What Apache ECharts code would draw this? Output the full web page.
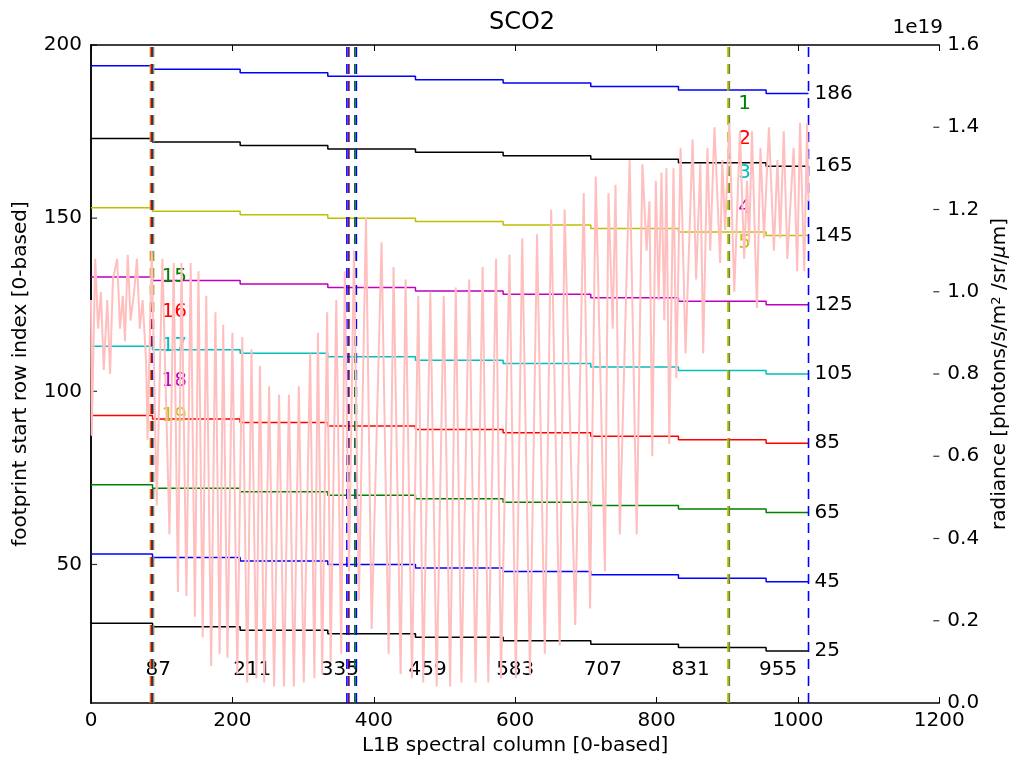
<!DOCTYPE html>
<html><head><meta charset="utf-8">
<script src="https://cdn.jsdelivr.net/npm/echarts@6/dist/echarts.min.js"></script>
<style>html,body{margin:0;padding:0;background:#fff}#c{width:1018px;height:765px}</style>
</head><body><div id="c"></div>
<script>
// ---------- data ----------
const stepCols = [0, 87, 211, 335, 459, 583, 707, 831, 955, 1015];
const fpA = [194, 193, 192, 191, 190, 189, 188, 187, 186];
const fpB = [173, 172, 171, 170, 169, 168, 167, 166, 165];
const fpC = [153, 152, 151, 150, 149, 148, 147, 146, 145];
const fpD = [133, 132, 131, 130, 129, 128, 127, 126, 125];
const fpE = [113, 112, 111, 110, 109, 108, 107, 106, 105];
const fpF = [93, 92, 91, 90, 89, 88, 87, 86, 85];
const fpG = [73, 72, 71, 70, 69, 68, 67, 66, 65];
const fpH = [53, 52, 51, 50, 49, 48, 47, 46, 45];
const fpI = [33, 32, 31, 30, 29, 28, 27, 26, 25];
const footprintRows = [fpA, fpB, fpC, fpD, fpE, fpF, fpG, fpH, fpI];
const footprintColors = ['#0000ff', '#000000', '#bfbf00', '#bf00bf', '#00bfbf', '#ff0000', '#008000', '#0000ff', '#000000'];

const stepLabelCols = [87, 211, 335, 459, 583, 707, 831, 955];
const stepLabels = ['87', '211', '335', '459', '583', '707', '831', '955'];
const stepLabelRow = 19.5;

const topLabels = ['1', '2', '3', '4', '5'];
const topLabelRows = [183, 173, 163, 153, 143];
const topLabelCol = 903;
const leftLabels = ['15', '16', '17', '18', '19'];
const leftLabelRows = [133, 123, 113, 103, 93];
const leftLabelCol = 87;
const numberColors = ['#008000', '#ff0000', '#00bfbf', '#bf00bf', '#bfbf00'];

const vLineCols = [84, 85.5, 87, 88.5, 362, 364.8, 373.2, 375.4, 901, 903, 1015];
const vLineColors = ['#bfbf00', '#ff0000', '#0000ff', '#8fa020', '#0000ff', '#600060', '#008000', '#0000ff', '#bfbf00', '#6a8a20', '#0000ff'];

const leftTickVals = [50, 100, 150, 200];
const rightTickVals = [0.2, 0.4, 0.6, 0.8, 1.0, 1.2, 1.4];
const xTickLabels = ['0', '200', '400', '600', '800', '1000', '1200'];

// radiance (units of 1e19)
const radCols = [0,1,6,10,14,18,23,27,31,37,41,45,48,52,56,61,65,69,73,78,80,86,
  93,101,111,117,123,128,135,141,147,152,158,163,170,176,182,187,193,200,207,214,221,227,234,239,245,252,259,266,273,280,287,294,301,310,316,321,327,334,339,347,354,359,365,372,379,389,397,411,421,
  428,438,445,454,463,470,480,489,499,508,516,524,535,544,554,562,573,580,592,601,610,621,631,642,651,663,670,685,697,706,714,727,732,738,742,748,762,772,780,786,790,794,799,803,807,811,814,818,824,
  828,834,841,851,856,862,866,872,876,882,890,893,897,903,910,918,924,928,931,935,942,947,952,959,966,971,975,980,985,994,999,1003,1009,1013,1015];
const radVals = [0.98,0.65,1.08,0.91,1.00,0.81,0.98,0.80,1.03,1.08,0.91,0.99,0.88,1.09,0.93,1.00,1.08,0.91,0.98,0.83,0.64,1.10,
  0.48,1.08,0.41,1.07,0.27,1.07,0.26,1.07,0.21,1.05,0.16,0.99,0.09,0.95,0.12,0.92,0.11,0.90,0.07,0.89,0.05,0.86,0.06,0.82,0.05,0.77,0.04,0.75,0.04,0.75,0.04,0.77,0.05,0.85,0.06,0.90,0.07,0.95,0.10,0.98,0.12,1.05,0.32,1.10,0.25,1.18,0.18,1.12,0.12,
  1.06,0.07,1.03,0.06,0.99,0.05,1.00,0.04,0.99,0.04,1.01,0.05,1.03,0.05,1.06,0.05,1.08,0.06,1.09,0.06,1.13,0.07,1.14,0.12,1.20,0.14,1.20,0.19,1.24,0.23,1.28,0.32,1.24,0.91,1.26,0.41,1.32,0.41,1.31,1.10,1.22,0.60,1.27,0.98,1.29,0.93,1.30,0.63,1.30,
  0.79,1.35,0.85,1.37,1.03,1.31,0.85,1.35,1.10,1.40,1.07,1.32,1.15,1.41,1.00,1.39,1.08,1.27,1.12,1.39,0.96,1.35,1.13,1.40,1.10,1.32,1.13,1.39,1.08,1.35,1.05,1.41,1.05,1.41,1.22];

// ---------- chart ----------
const FONT = '"DejaVu Sans", sans-serif';
const FS = 20;
const chart = echarts.init(document.getElementById('c'));
const series = [];

vLineCols.forEach((c, i) => series.push({
  type: 'line', xAxisIndex: 0, yAxisIndex: 0, data: [[c, 10], [c, 200]], symbol: 'none',
  lineStyle: { color: vLineColors[i], width: 1.6, type: [10, 7] }, z: 3, silent: true
}));

footprintRows.forEach((rows, i) => series.push({
  type: 'line', xAxisIndex: 0, yAxisIndex: 0, step: 'end', symbol: 'none',
  data: stepCols.map((c, j) => [c, rows[Math.min(j, rows.length - 1)]]),
  lineStyle: { color: footprintColors[i], width: 1.5 }, z: 2,
  endLabel: { show: true, formatter: String(rows[rows.length - 1]), color: '#000', fontSize: FS, fontFamily: FONT, distance: 6 }
}));

function labelSeries(cols, rows, texts, colors, dx) {
  return {
    type: 'scatter', xAxisIndex: 0, yAxisIndex: 0, symbolSize: 0.01, z: 2, silent: true,
    itemStyle: { color: '#ffffff' },
    data: texts.map((t, i) => ({
      value: [Array.isArray(cols) ? cols[i] : cols, Array.isArray(rows) ? rows[i] : rows],
      label: { color: colors[i] }
    })),
    label: { show: true, position: 'right', distance: 0, offset: [dx, 0], fontSize: FS, fontFamily: FONT,
      textBorderWidth: 0, opacity: 1, formatter: p => texts[p.dataIndex] }
  };
}
series.push(labelSeries(stepLabelCols, stepLabelRow, stepLabels, stepLabels.map(() => '#000000'), -7));
series.push(labelSeries(topLabelCol, topLabelRows, topLabels, numberColors, 9));
series.push(labelSeries(leftLabelCol, leftLabelRows, leftLabels, numberColors, 9));

// inside ticks of the left axis (only at 50,100,150,200) and of the right axis
series.push({
  type: 'scatter', xAxisIndex: 0, yAxisIndex: 0, silent: true, clip: false, z: 5,
  symbol: 'rect', symbolSize: [6, 1.2], symbolOffset: [3, 0],
  itemStyle: { color: '#000' },
  data: leftTickVals.map(v => [0, v])
});
series.push({
  type: 'scatter', xAxisIndex: 0, yAxisIndex: 1, silent: true, clip: false, z: 5,
  symbol: 'rect', symbolSize: [6, 1.2], symbolOffset: [-3, 0],
  itemStyle: { color: '#000' },
  data: rightTickVals.map(v => [1200, v * 1e19])
});

series.push({
  type: 'line', xAxisIndex: 0, yAxisIndex: 1, symbol: 'none', sampling: null,
  data: radCols.map((c, i) => [c, radVals[i] * 1e19]),
  lineStyle: { color: '#ffbfbf', width: 2 }, z: 10
});

const axLine = { show: true, lineStyle: { color: '#000', width: 1.5 } };
const axTick = { show: true, inside: true, length: 6, lineStyle: { color: '#000', width: 1 } };
const labelStyle = { color: '#000', fontSize: FS, fontFamily: FONT };

chart.setOption({
  animation: false,
  backgroundColor: '#fff',
  title: { text: 'SCO2', left: 517, top: 6, textAlign: 'center',
    textStyle: { fontSize: 24, fontWeight: 'normal', fontFamily: FONT, color: '#000' } },
  grid: { left: 91, right: 75, top: 45, bottom: 62, containLabel: false },
  xAxis: [
    { type: 'value', position: 'bottom', min: 0, max: 1200, interval: 200,
      axisLine: axLine, axisTick: axTick, splitLine: { show: false },
      axisLabel: Object.assign({ margin: 8, formatter: v => xTickLabels[Math.round(v / 200)] }, labelStyle),
      name: 'L1B spectral column [0-based]', nameLocation: 'middle', nameGap: 33,
      nameTextStyle: labelStyle },
    { type: 'value', position: 'top', min: 0, max: 1200, interval: 200,
      axisLine: axLine, axisTick: axTick, splitLine: { show: false }, axisLabel: { show: false } }
  ],
  yAxis: [
    { type: 'value', position: 'left', min: 10, max: 200, alignTicks: false,
      axisLine: axLine, splitLine: { show: false }, axisTick: { show: false },
      axisLabel: Object.assign({ margin: 9, customValues: leftTickVals }, labelStyle),
      name: 'footprint start row index [0-based]', nameLocation: 'middle', nameGap: 60,
      nameTextStyle: labelStyle },
    { type: 'value', position: 'right', min: 0, max: 1.6e19, interval: 0.2e19, alignTicks: false,
      axisLine: axLine, axisTick: { show: false }, splitLine: { show: false },
      axisLabel: Object.assign({ margin: 8, formatter: v => (v / 1e19).toFixed(1) }, labelStyle),
      name: 'radiance [photons/s/m{sup|2} /sr/{it|μ}m]', nameLocation: 'middle', nameGap: 50,
      nameTextStyle: Object.assign({ rich: {
        sup: { fontSize: 13, fontFamily: FONT, color: '#000', verticalAlign: 'top', lineHeight: 14 },
        it: { fontSize: FS, fontFamily: FONT, color: '#000', fontStyle: 'italic' }
      } }, labelStyle) }
  ],
  graphic: [
    { type: 'text', right: 75, top: 18, style: { text: '1e19', font: FS + 'px "DejaVu Sans"', fill: '#000' } }
  ],
  series: series
});
</script>
</body></html>
